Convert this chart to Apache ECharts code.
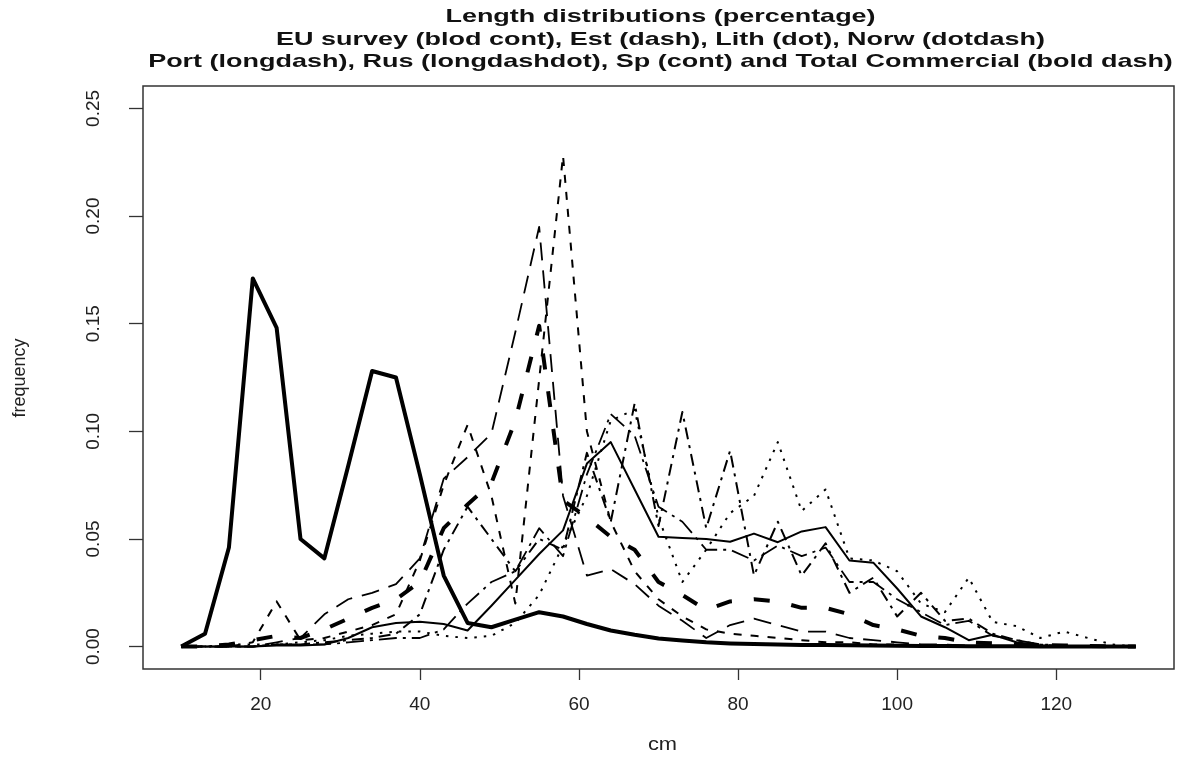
<!DOCTYPE html>
<html>
<head>
<meta charset="utf-8">
<script src="https://cdn.jsdelivr.net/npm/echarts@6/dist/echarts.min.js"></script>
<style>
  html, body { margin: 0; padding: 0; background: #fff; }
  #chart { width: 1187px; height: 762px; }
</style>
</head>
<body>
<div id="chart"></div>
<script>
// Length classes (cm)
const lengthsCm = [10, 13, 16, 19, 22, 25, 28, 31, 34, 37, 40, 43, 46, 49, 52, 55, 58, 61, 64, 67,
  70, 73, 76, 79, 82, 85, 88, 91, 94, 97, 100, 103, 106, 109, 112, 115, 118, 121, 124, 127, 130];

// Frequency by length class for each source
const euSurvey = [0, 0.006, 0.046, 0.171, 0.148, 0.050, 0.041, 0.084, 0.128, 0.125, 0.080, 0.033, 0.011, 0.009, 0.0125, 0.016, 0.014, 0.0105, 0.0075, 0.0055,
  0.0038, 0.0028, 0.002, 0.0015, 0.0012, 0.001, 0.0008, 0.0007, 0.0006, 0.0005, 0.0004, 0.0003, 0.0003, 0.0002, 0.0002, 0.0002, 0.0001, 0.0001, 0.0001, 0, 0];
const est = [0, 0, 0, 0.002, 0.021, 0.003, 0.004, 0.007, 0.010, 0.015, 0.040, 0.075, 0.103, 0.070, 0.020, 0.124, 0.228, 0.100, 0.058, 0.035,
  0.022, 0.014, 0.008, 0.006, 0.005, 0.004, 0.003, 0.002, 0.002, 0.001, 0.001, 0.0005, 0.0005, 0, 0, 0, 0, 0, 0, 0, 0];
const lith = [0, 0, 0.001, 0.001, 0.001, 0.002, 0.003, 0.005, 0.006, 0.007, 0.007, 0.005, 0.004, 0.005, 0.011, 0.024, 0.047, 0.070, 0.105, 0.110,
  0.060, 0.030, 0.045, 0.062, 0.070, 0.095, 0.063, 0.073, 0.041, 0.040, 0.035, 0.020, 0.016, 0.032, 0.0115, 0.0095, 0.004, 0.007, 0.004, 0.001, 0];
const norw = [0, 0, 0, 0, 0.001, 0.001, 0.002, 0.003, 0.004, 0.006, 0.015, 0.045, 0.065, 0.050, 0.035, 0.050, 0.045, 0.090, 0.058, 0.113,
  0.056, 0.109, 0.055, 0.091, 0.033, 0.058, 0.033, 0.048, 0.025, 0.032, 0.014, 0.025, 0.012, 0.013, 0.006, 0.003, 0.001, 0.0005, 0, 0, 0];
const port = [0, 0, 0, 0, 0.002, 0.004, 0.015, 0.022, 0.025, 0.029, 0.041, 0.078, 0.088, 0.099, 0.146, 0.195, 0.070, 0.033, 0.036, 0.029,
  0.019, 0.012, 0.004, 0.010, 0.013, 0.010, 0.007, 0.007, 0.004, 0.003, 0.002, 0.001, 0.001, 0.0005, 0, 0, 0, 0, 0, 0, 0];
const rus = [0, 0, 0, 0, 0.001, 0.001, 0.001, 0.002, 0.003, 0.004, 0.004, 0.008, 0.020, 0.030, 0.035, 0.055, 0.042, 0.080, 0.108, 0.098,
  0.065, 0.058, 0.045, 0.045, 0.040, 0.047, 0.042, 0.046, 0.030, 0.030, 0.022, 0.016, 0.010, 0.012, 0.005, 0.003, 0.001, 0, 0, 0, 0];
const sp = [0, 0, 0, 0, 0.0005, 0.0005, 0.001, 0.004, 0.009, 0.011, 0.0115, 0.0105, 0.0075, 0.019, 0.031, 0.043, 0.054, 0.085, 0.095, 0.073,
  0.051, 0.0505, 0.050, 0.0487, 0.0525, 0.0485, 0.0535, 0.0555, 0.040, 0.039, 0.027, 0.014, 0.009, 0.003, 0.0055, 0.002, 0.0005, 0.0003, 0, 0, 0];
const totalCommercial = [0, 0, 0.001, 0.003, 0.005, 0.004, 0.008, 0.013, 0.018, 0.022, 0.030, 0.055, 0.066, 0.076, 0.105, 0.149, 0.068, 0.060, 0.051, 0.045,
  0.030, 0.024, 0.017, 0.021, 0.022, 0.021, 0.018, 0.018, 0.015, 0.010, 0.008, 0.005, 0.004, 0.002, 0.0015, 0.001, 0.0008, 0.0005, 0.0003, 0.0001, 0];

// Axis ticks
const xTicks = [20, 40, 60, 80, 100, 120];
const yTicks = [0, 0.05, 0.10, 0.15, 0.20, 0.25];

const titleLines = [
  'Length distributions (percentage)',
  'EU survey (blod cont), Est (dash), Lith (dot), Norw (dotdash)',
  'Port (longdash), Rus (longdashdot), Sp (cont) and Total Commercial (bold dash)'
];

const FONT = '"Liberation Sans", Arial, Helvetica, sans-serif';
const INK = '#000';

function pairs(values) {
  return lengthsCm.map((x, i) => [x, values[i]]);
}

function lineSeries(name, values, width, dash) {
  return {
    name: name,
    type: 'line',
    data: pairs(values),
    symbol: 'none',
    smooth: false,
    lineStyle: { color: INK, width: width, type: dash, cap: 'butt', join: 'round' },
    z: 3
  };
}

const chart = echarts.init(document.getElementById('chart'), null, { renderer: 'canvas' });

const plotLeft = 143, plotTop = 86, plotRight = 1174, plotBottom = 669;
const plotCenterX = (plotLeft + plotRight) / 2;

// Wide bold title lines, centred over the plot box
function titleText(text, y) {
  return {
    type: 'text', x: plotCenterX + 2, y: y, scaleX: 1.42, scaleY: 1,
    style: { text: text, font: 'bold 19px ' + FONT, fill: '#111', textAlign: 'center', textVerticalAlign: 'middle' }
  };
}

chart.setOption({
  animation: false,
  backgroundColor: '#fff',
  grid: {
    left: plotLeft, top: plotTop, width: plotRight - plotLeft, height: plotBottom - plotTop,
    show: true, borderColor: '#333', borderWidth: 1.5, backgroundColor: 'transparent'
  },
  xAxis: {
    type: 'value', min: 5.2, max: 134.8,
    axisLine: { show: false, onZero: false },
    splitLine: { show: false },
    axisTick: { show: true, length: 11, lineStyle: { color: '#333', width: 1.3 }, customValues: xTicks },
    axisLabel: { customValues: xTicks, color: '#222', fontFamily: FONT, fontSize: 19, margin: 26 }
  },
  yAxis: {
    type: 'value', min: -0.0104, max: 0.2604,
    axisLine: { show: false, onZero: false },
    splitLine: { show: false },
    axisTick: { show: true, length: 14, lineStyle: { color: '#333', width: 1.3 }, customValues: yTicks },
    axisLabel: {
      customValues: yTicks, rotate: 90, color: '#222', fontFamily: FONT, fontSize: 19, margin: 40,
      formatter: v => v.toFixed(2)
    }
  },
  graphic: [
    titleText(titleLines[0], 17),
    titleText(titleLines[1], 40),
    titleText(titleLines[2], 62),
    { type: 'text', x: plotCenterX + 4, y: 745, scaleX: 1.15, style: { text: 'cm', font: '19px ' + FONT, fill: '#222', textAlign: 'center', textVerticalAlign: 'middle' } },
    { type: 'text', x: 20, y: 378, rotation: Math.PI / 2, style: { text: 'frequency', font: '18px ' + FONT, fill: '#222', textAlign: 'center', textVerticalAlign: 'middle' } }
  ],
  series: [
    lineSeries('EU survey', euSurvey, 4, 'solid'),
    lineSeries('Est', est, 2, [8, 9]),
    lineSeries('Lith', lith, 2, [2.5, 7]),
    lineSeries('Norw', norw, 2, [3, 6, 12, 6]),
    lineSeries('Port', port, 1.8, [18, 10]),
    lineSeries('Rus', rus, 1.8, [18, 6, 3, 6]),
    lineSeries('Sp', sp, 2, 'solid'),
    lineSeries('Total Commercial', totalCommercial, 4, [16, 22])
  ]
});
</script>
</body>
</html>
